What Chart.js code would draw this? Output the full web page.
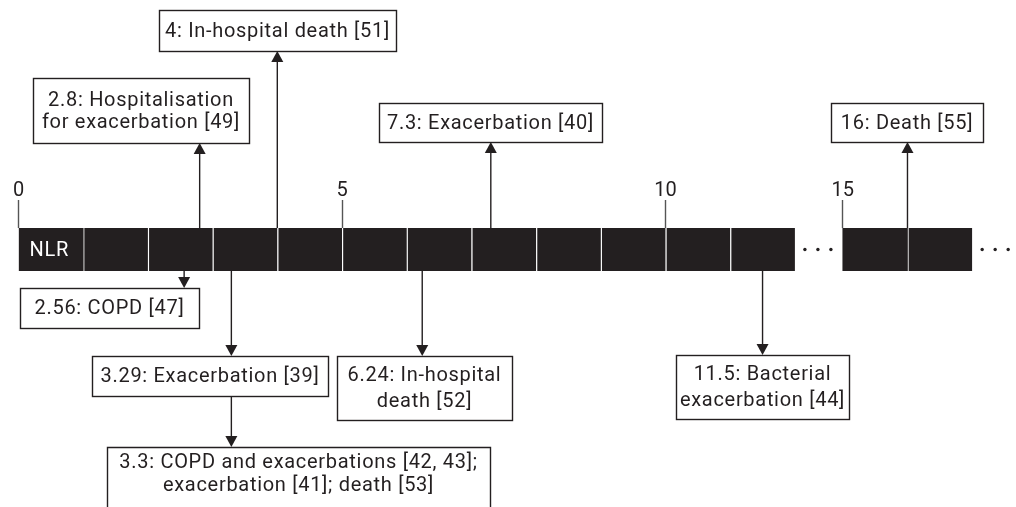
<!DOCTYPE html>
<html>
<head>
<meta charset="utf-8">
<script src="https://cdn.jsdelivr.net/npm/chart.js@4/dist/chart.umd.min.js"></script>
<style>
  html, body { margin: 0; padding: 0; background: #fff; }
</style>
</head>
<body>
<canvas id="Chart" width="1016" height="507"></canvas>
<script>
// timeline blocks (NLR units), the axis is broken between 12 and 15
const segStarts = [0, 1, 2, 3, 4, 5, 6, 7, 8, 9, 10, 11, 15, 16];
const axisTicks = [0, 5, 10, 15];

// reported NLR cut-offs
const eventValues = [2.8, 4, 7.3, 16, 2.56, 3.29, 6.24, 11.5, 3.3];
const eventLabels = [
    ["2.8: Hospitalisation", "for exacerbation [49]"],
    ["4: In-hospital death [51]"],
    ["7.3: Exacerbation [40]"],
    ["16: Death [55]"],
    ["2.56: COPD [47]"],
    ["3.29: Exacerbation [39]"],
    ["6.24: In-hospital", "death [52]"],
    ["11.5: Bacterial", "exacerbation [44]"],
    ["3.3: COPD and exacerbations [42, 43];", "exacerbation [41]; death [53]"]
];
const eventSide = ["up", "up", "up", "up", "down", "down", "down", "down", "down"];
const eventParent = [null, null, null, null, null, null, null, null, 5];

const ink = "#231f20";
const fontFamily = "Roboto, 'DejaVu Sans', sans-serif";
const fontSize = 20;
const spacing = "0.7px";

// axis break: values past 12.5 are pulled left
const breakAt = 12.5;
const breakGap = 2.26;
const pos = v => (v > breakAt ? v - breakGap : v);

// box frames: left, top, right, bottom (px), line height, open at the bottom edge
const boxFrames = [
    [33, 78, 249, 143, 22, false],
    [159, 10, 396, 51, 22, false],
    [379, 103, 602, 142, 22, false],
    [831, 103, 983, 142, 22, false],
    [20, 288, 199, 328, 22, false],
    [92, 356, 328, 396, 22, false],
    [337, 356, 512, 420, 26, false],
    [676, 355, 849, 419, 26, false],
    [107, 447, 490, 500, 23, true]
];

const drawArrow = function (ctx, x, y0, y1) {
    const dir = y1 > y0 ? 1 : -1;
    const head = 11;
    ctx.beginPath();
    ctx.moveTo(x, y0);
    ctx.lineTo(x, y1 - dir * head);
    ctx.stroke();
    ctx.beginPath();
    ctx.moveTo(x, y1);
    ctx.lineTo(x - 6, y1 - dir * head);
    ctx.lineTo(x + 6, y1 - dir * head);
    ctx.closePath();
    ctx.fill();
};

const timelinePlugin = {
    id: "timeline",
    afterDraw(chart) {
        const ctx = chart.ctx;
        const xs = chart.scales.x;
        const area = chart.chartArea;
        const midY = (area.top + area.bottom) / 2;
        ctx.save();
        ctx.letterSpacing = spacing;

        // NLR label inside first block
        ctx.fillStyle = "#fff";
        ctx.font = fontSize + "px " + fontFamily;
        ctx.textBaseline = "middle";
        ctx.textAlign = "left";
        ctx.fillText("NLR", xs.getPixelForValue(pos(0)) + 11, midY + 1);

        // ellipses after each run of blocks
        ctx.fillStyle = ink;
        const ends = [xs.getPixelForValue(pos(12)), xs.getPixelForValue(pos(17))];
        ends.forEach(e => {
            [10, 23, 36].forEach(d => {
                ctx.beginPath();
                ctx.arc(e + d, midY, 1.7, 0, Math.PI * 2);
                ctx.fill();
            });
        });

        // boxes and arrows
        ctx.strokeStyle = ink;
        ctx.lineWidth = 1.4;
        const arrowX = [];
        eventValues.forEach((v, i) => {
            const f = boxFrames[i];
            const p = eventParent[i];
            let x = xs.getPixelForValue(pos(v));
            if (p !== null) x = arrowX[p];
            arrowX[i] = x;

            if (f[5]) {
                ctx.beginPath();
                ctx.moveTo(f[0] + 0.5, chart.height + 2);
                ctx.lineTo(f[0] + 0.5, f[1] + 0.5);
                ctx.lineTo(f[2] + 0.5, f[1] + 0.5);
                ctx.lineTo(f[2] + 0.5, chart.height + 2);
                ctx.stroke();
            } else {
                ctx.strokeRect(f[0] + 0.5, f[1] + 0.5, f[2] - f[0], f[3] - f[1]);
            }

            if (p !== null) {
                drawArrow(ctx, x, boxFrames[p][3], f[1]);
            } else if (eventSide[i] === "up") {
                drawArrow(ctx, x, area.top, f[3]);
            } else {
                drawArrow(ctx, x, area.bottom, f[1]);
            }

            const lines = eventLabels[i];
            const lh = f[4];
            const cx = (f[0] + f[2]) / 2;
            const cy = (f[1] + f[3]) / 2;
            ctx.textAlign = "center";
            ctx.textBaseline = "middle";
            lines.forEach((t, k) => {
                ctx.fillText(t, cx, cy + (k - (lines.length - 1) / 2) * lh + 1);
            });
        });
        ctx.restore();
    }
};

const datasets = segStarts.map(s => ({
    data: [[pos(s), pos(s + 1)]],
    backgroundColor: ink,
    borderColor: "#fff",
    borderWidth: { left: (s === 0 || s === 15) ? 0 : 1.5, right: 0, top: 0, bottom: 0 },
    borderSkipped: false,
    barPercentage: 1,
    categoryPercentage: 1,
    grouped: false
}));

const ctx = document.getElementById("Chart");
const chart = new Chart(ctx, {
    type: "bar",
    data: {
        labels: ["NLR"],
        datasets: datasets
    },
    options: {
        indexAxis: "y",
        responsive: false,
        animation: false,
        layout: {
            padding: { left: 18.5, right: 0, top: 0, bottom: 236 }
        },
        plugins: {
            legend: { display: false },
            tooltip: { enabled: false }
        },
        scales: {
            x: {
                type: "linear",
                position: "top",
                min: 0,
                max: (1016 - 18.5) / 64.7,
                border: { display: false },
                grid: {
                    drawOnChartArea: false,
                    drawTicks: true,
                    tickLength: 28,
                    tickColor: "#555",
                    tickWidth: 1.4
                },
                afterBuildTicks: s => {
                    s.ticks = axisTicks.map(t => ({ value: pos(t) }));
                },
                afterFit: s => {
                    s.height = 228;
                },
                ticks: {
                    padding: -3,
                    color: ink,
                    maxRotation: 0,
                    autoSkip: false,
                    font: { family: fontFamily, size: fontSize },
                    callback: (value, index) => String(axisTicks[index])
                }
            },
            y: {
                type: "category",
                display: false
            }
        }
    },
    plugins: [timelinePlugin]
});
</script>
</body>
</html>
